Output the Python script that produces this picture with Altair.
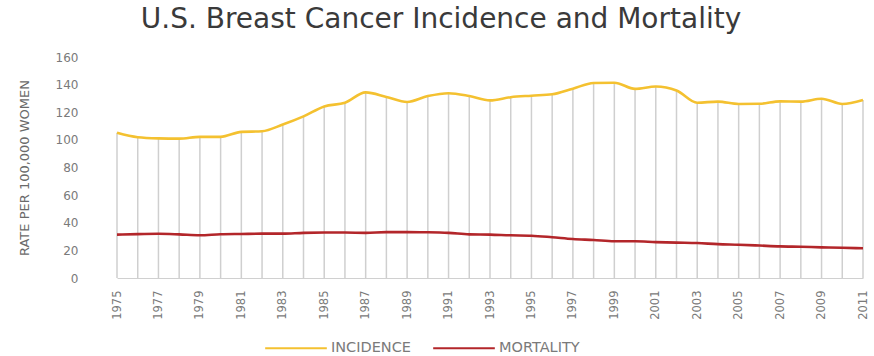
import altair as alt
import pandas as pd

years = list(range(1975, 2012))
incidence = [105.1, 101.9, 101.1, 100.9, 102.2, 102.2, 105.8, 106.2, 111.1, 117.0,
             124.2, 126.9, 134.4, 131.1, 127.4, 131.7, 133.8, 131.8, 128.6, 130.9,
             132.0, 133.0, 137.1, 141.2, 141.4, 136.9, 138.6, 135.8, 126.9, 127.7,
             126.0, 126.1, 127.9, 127.7, 129.8, 126.0, 128.9]
mortality = [31.4, 31.8, 32.0, 31.6, 31.0, 31.7, 31.9, 32.1, 32.1, 32.7,
             32.9, 32.9, 32.7, 33.2, 33.2, 33.1, 32.7, 31.6, 31.4, 30.9,
             30.6, 29.5, 28.2, 27.5, 26.6, 26.6, 26.0, 25.6, 25.3, 24.5,
             24.1, 23.5, 22.9, 22.6, 22.2, 21.9, 21.5]
y_ticks = [0, 20, 40, 60, 80, 100, 120, 140, 160]
series_names = ["INCIDENCE", "MORTALITY"]
series_colors = ["#F4C130", "#B3262A"]

wide = pd.DataFrame({"year": years, "INCIDENCE": incidence, "MORTALITY": mortality})
long = wide.melt(id_vars="year", value_vars=series_names, var_name="series", value_name="rate")

FONT = "DejaVu Sans"
W, H = 746, 221
xscale = alt.Scale(domain=[1975, 2011], nice=False, zero=False)
yscale = alt.Scale(domain=[0, 160], nice=False)

xaxis = alt.Axis(values=years, labelExpr="datum.value % 2 == 1 ? datum.label : ''",
                 format="d", labelAngle=-90, labelOverlap=False, grid=False,
                 ticks=False, domain=True, domainColor="#d0d0d0",
                 labelColor="#7a7a7a", labelFont=FONT, labelFontSize=11.5,
                 labelPadding=12, title=None)
yaxis = alt.Axis(values=y_ticks, tickCount=9, grid=False, labelOverlap=False,
                 ticks=False, domain=False, labelColor="#7a7a7a",
                 labelFont=FONT, labelFontSize=12, labelPadding=39,
                 title="RATE PER 100,000 WOMEN", titleFont=FONT,
                 titleFontSize=13, titleFontWeight="normal", titleColor="#6a6a6a",
                 titlePadding=24)

drops = alt.Chart(wide).mark_rule(color="#cfcfcf", strokeWidth=1.5).encode(
    x=alt.X("year:Q", scale=xscale, axis=xaxis),
    y=alt.Y("INCIDENCE:Q", scale=yscale, axis=yaxis),
    y2=alt.datum(0),
)

lines = alt.Chart(long).mark_line(strokeWidth=2.6, interpolate="monotone").encode(
    x=alt.X("year:Q", scale=xscale, axis=xaxis),
    y=alt.Y("rate:Q", scale=yscale, axis=yaxis),
    color=alt.Color("series:N",
                    scale=alt.Scale(domain=series_names, range=series_colors),
                    legend=alt.Legend(orient="none", legendX=147, legendY=259,
                                      direction="horizontal", title=None,
                                      symbolType="stroke", symbolSize=3800,
                                      symbolStrokeWidth=2, labelFont=FONT,
                                      labelFontSize=14.5, labelColor="#7a7a7a",
                                      labelOffset=3, columnPadding=18)),
)

chart = alt.layer(drops, lines).properties(
    width=W, height=H,
    background="white",
    autosize=alt.AutoSizeParams(type="none"),
    padding={"left": 117, "top": 57, "right": 11, "bottom": 78},
    title=alt.TitleParams("U.S. Breast Cancer Incidence and Mortality", font=FONT,
                          fontSize=28, fontWeight="normal", color="#3a3a3a",
                          anchor="middle", dx=-49, offset=17),
).configure_view(stroke=None)

chart.save("out.html", embed_options={"renderer": "svg", "actions": False})
